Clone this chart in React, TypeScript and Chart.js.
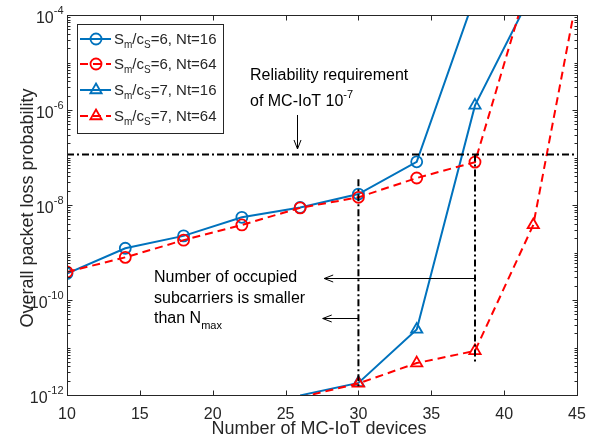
import React, { useEffect, useRef } from 'react';
import { Chart, registerables } from 'chart.js';

Chart.register(...registerables);

// ---------- data ----------
const xSeries6 = [10, 14, 18, 22, 26, 30, 34, 38, 42];
const s6Nt16 = [3.6e-10, 1.23e-9, 2.24e-9, 5.5e-9, 8.9e-9, 1.7e-8, 8.1e-8, 2.5e-4];
const s6Nt64 = [3.9e-10, 7.9e-10, 1.82e-9, 3.8e-9, 8.7e-9, 1.45e-8, 3.7e-8, 8.0e-8, 1.1e-3];
const xSeries7 = [26, 30, 34, 38, 42, 46];
const s7Nt16 = [9.8e-13, 1.8e-12, 2.4e-11, 1.25e-6, 3.3e-4];
const s7Nt64 = [8.9e-13, 1.75e-12, 4.7e-12, 8.5e-12, 3.8e-9, 1.0e-2];

const xTicks = [10, 15, 20, 25, 30, 35, 40, 45];
const yLabelExponents = [-12, -10, -8, -6, -4];

const legendRatio = [6, 6, 7, 7];
const legendNt = [16, 64, 16, 64];

const reliabilityLevel = 1.15e-7;
const reliabilityX = [10, 44.8];
const nmaxX = [30, 38];
const nmaxTop = [3.5e-8, 1.15e-7];
const nmaxBottom = [1.4e-12, 4.9e-12];

// ---------- styles ----------
const FONT = '"Liberation Sans", Arial, Helvetica, sans-serif';
const INK = '#262626';
const BLUE = '#0072BD';
const RED = '#FF0000';

const toPts = (xs: number[], ys: number[]) => ys.map((y, i) => ({ x: xs[i], y }));

const markerRadius = (r: number) => (c: any) => {
  const v = c.raw && c.raw.y;
  return v >= 1e-12 && v <= 1e-4 ? r : 0;
};

type Part = [string, 'n' | 'sub' | 'sup'];

function drawRich(ctx: CanvasRenderingContext2D, parts: Part[], x: number, y: number, size: number, subSize: number, subDrop: number, supRise: number) {
  let cx = x;
  ctx.textAlign = 'left';
  ctx.textBaseline = 'alphabetic';
  for (const [t, k] of parts) {
    const s = k === 'n' ? size : subSize;
    ctx.font = `${s}px ${FONT}`;
    const yy = k === 'sub' ? y + subDrop : k === 'sup' ? y - supRise : y;
    ctx.fillText(t, cx, yy);
    cx += ctx.measureText(t).width;
  }
  return cx;
}

function seg(ctx: CanvasRenderingContext2D, x1: number, y1: number, x2: number, y2: number) {
  ctx.beginPath();
  ctx.moveTo(x1, y1);
  ctx.lineTo(x2, y2);
  ctx.stroke();
}

const overlay = {
  id: 'overlay',
  afterDraw(chart: any) {
    const { ctx, chartArea: a, scales } = chart;
    const xs = scales.x;
    const ys = scales.y;
    ctx.save();
    ctx.setLineDash([]);
    ctx.strokeStyle = INK;
    ctx.fillStyle = INK;
    ctx.lineWidth = 1;

    const L = Math.round(a.left) + 0.5;
    const R = Math.round(a.right) + 0.5;
    const T = Math.round(a.top) + 0.5;
    const B = Math.round(a.bottom) + 0.5;
    ctx.strokeRect(L, T, R - L, B - T);

    // x ticks (inward, bottom and top)
    for (const v of xTicks) {
      const px = Math.round(xs.getPixelForValue(v)) + 0.5;
      seg(ctx, px, B, px, B - 5);
      seg(ctx, px, T, px, T + 5);
    }
    // y ticks (inward, left and right)
    for (let e = -12; e <= -4; e++) {
      for (let k = 1; k <= 9; k++) {
        if (e === -4 && k > 1) break;
        const py = Math.round(ys.getPixelForValue(k * Math.pow(10, e))) + 0.5;
        const len = k === 1 && e % 2 === 0 ? 5 : 3;
        seg(ctx, L, py, L + len, py);
        seg(ctx, R, py, R - len, py);
      }
    }

    // y tick labels 10^e
    for (const e of yLabelExponents) {
      const py = ys.getPixelForValue(Math.pow(10, e));
      ctx.font = `11px ${FONT}`;
      const expStr = String(e);
      const we = ctx.measureText(expStr).width;
      ctx.font = `16px ${FONT}`;
      const wb = ctx.measureText('10').width;
      const right = L - 4;
      ctx.textAlign = 'left';
      ctx.textBaseline = 'alphabetic';
      ctx.fillText('10', right - we - wb, py + 8);
      ctx.font = `11px ${FONT}`;
      ctx.fillText(expStr, right - we, py - 1);
    }

    // axis titles
    ctx.font = `18px ${FONT}`;
    ctx.textAlign = 'center';
    ctx.textBaseline = 'alphabetic';
    ctx.fillText('Number of MC-IoT devices', (a.left + a.right) / 2 - 3, 434);
    ctx.save();
    ctx.translate(33, (a.top + a.bottom) / 2 + 3);
    ctx.rotate(-Math.PI / 2);
    ctx.fillText('Overall packet loss probability', 0, 0);
    ctx.restore();

    // legend
    ctx.fillStyle = '#ffffff';
    ctx.fillRect(77, 24, 146, 109);
    ctx.strokeStyle = INK;
    ctx.strokeRect(77.5, 24.5, 146, 109);
    const rowY = [39, 64, 90, 116];
    for (let i = 0; i < 4; i++) {
      const y = rowY[i];
      const color = i % 2 === 0 ? BLUE : RED;
      ctx.strokeStyle = color;
      ctx.lineWidth = 2;
      ctx.setLineDash(i % 2 === 0 ? [] : [8, 5]);
      seg(ctx, 80, y, 111, y);
      ctx.setLineDash([]);
      ctx.lineWidth = 1.8;
      ctx.beginPath();
      if (legendRatio[i] === 6) {
        ctx.arc(96, y, 5.5, 0, Math.PI * 2);
      } else {
        const r = 6.5;
        ctx.moveTo(96, y - r);
        ctx.lineTo(96 + r * Math.sin(Math.PI / 3), y + r * 0.5);
        ctx.lineTo(96 - r * Math.sin(Math.PI / 3), y + r * 0.5);
        ctx.closePath();
      }
      ctx.stroke();
      ctx.fillStyle = INK;
      drawRich(ctx, [['S', 'n'], ['m', 'sub'], ['/c', 'n'], ['S', 'sub'], [`=${legendRatio[i]}, Nt=${legendNt[i]}`, 'n']], 114, y + 5, 15, 10, 4, 6);
    }

    // annotations
    ctx.fillStyle = '#000';
    ctx.strokeStyle = '#000';
    ctx.lineWidth = 1;
    ctx.font = `16px ${FONT}`;
    ctx.textAlign = 'left';
    ctx.textBaseline = 'alphabetic';
    ctx.fillText('Reliability requirement', 250, 80);
    drawRich(ctx, [['of MC-IoT 10', 'n'], ['-7', 'sup']], 250, 106, 16, 11, 4, 8);
    ctx.font = `16px ${FONT}`;
    ctx.fillText('Number of occupied', 154, 282);
    ctx.fillText('subcarriers is smaller', 154, 303);
    drawRich(ctx, [['than N', 'n'], ['max', 'sub']], 154, 323, 16, 11, 6, 0);

    // down arrow
    const ax = Math.round(xs.getPixelForValue(25.77)) + 0.5;
    const ay1 = ys.getPixelForValue(7.85e-7);
    const ay2 = ys.getPixelForValue(1.51e-7);
    seg(ctx, ax, ay1, ax, ay2);
    seg(ctx, ax - 3.5, ay2 - 9, ax, ay2);
    seg(ctx, ax + 3.5, ay2 - 9, ax, ay2);

    // left arrows
    const arrows: [number, number, number][] = [
      [38, 27.65, 2.86e-10],
      [30, 27.55, 4.24e-11],
    ];
    for (const [from, to, yv] of arrows) {
      const py = Math.round(ys.getPixelForValue(yv)) + 0.5;
      const x1 = xs.getPixelForValue(from);
      const x2 = xs.getPixelForValue(to);
      seg(ctx, x1, py, x2, py);
      seg(ctx, x2 + 9, py - 3.5, x2, py);
      seg(ctx, x2 + 9, py + 3.5, x2, py);
    }

    ctx.restore();
  },
};

export default function App() {
  const ref = useRef<HTMLCanvasElement | null>(null);

  useEffect(() => {
    if (!ref.current) return;
    const dashDot = [7, 3, 2, 3];
    const chart = new Chart(ref.current, {
      type: 'line',
      data: {
        datasets: [
          {
            label: 'reliability',
            data: reliabilityX.map((x) => ({ x, y: reliabilityLevel })),
            borderColor: '#000',
            borderWidth: 2,
            borderDash: dashDot,
            pointRadius: 0,
            order: 0,
          },
          ...nmaxX.map((x, i) => ({
            label: `nmax${x}`,
            data: [
              { x, y: nmaxTop[i] },
              { x, y: nmaxBottom[i] },
            ],
            borderColor: '#000',
            borderWidth: 2,
            borderDash: dashDot,
            pointRadius: 0,
            order: 0,
          })),
          {
            label: 'Sm/cS=6, Nt=64',
            data: toPts(xSeries6, s6Nt64),
            borderColor: RED,
            borderWidth: 2,
            borderDash: [8, 5],
            pointStyle: 'circle',
            pointRadius: markerRadius(5.5),
            pointBorderWidth: 1.8,
            pointBorderColor: RED,
            pointBackgroundColor: 'rgba(0,0,0,0)',
            order: 1,
          },
          {
            label: 'Sm/cS=7, Nt=64',
            data: toPts(xSeries7, s7Nt64),
            borderColor: RED,
            borderWidth: 2,
            borderDash: [8, 5],
            pointStyle: 'triangle',
            pointRadius: markerRadius(6.5),
            pointBorderWidth: 1.8,
            pointBorderColor: RED,
            pointBackgroundColor: 'rgba(0,0,0,0)',
            order: 1,
          },
          {
            label: 'Sm/cS=6, Nt=16',
            data: toPts(xSeries6, s6Nt16),
            borderColor: BLUE,
            borderWidth: 2,
            pointStyle: 'circle',
            pointRadius: markerRadius(5.5),
            pointBorderWidth: 1.8,
            pointBorderColor: BLUE,
            pointBackgroundColor: 'rgba(0,0,0,0)',
            order: 2,
          },
          {
            label: 'Sm/cS=7, Nt=16',
            data: toPts(xSeries7, s7Nt16),
            borderColor: BLUE,
            borderWidth: 2,
            pointStyle: 'triangle',
            pointRadius: markerRadius(6.5),
            pointBorderWidth: 1.8,
            pointBorderColor: BLUE,
            pointBackgroundColor: 'rgba(0,0,0,0)',
            order: 2,
          },
        ] as any,
      },
      options: {
        animation: false,
        responsive: false,
        devicePixelRatio: 1,
        layout: { padding: { left: 0, top: 15, right: 12, bottom: 0 } },
        elements: { line: { tension: 0 } },
        plugins: { legend: { display: false }, tooltip: { enabled: false } },
        scales: {
          x: {
            type: 'linear',
            min: 10,
            max: 45,
            grid: { display: false },
            border: { display: false },
            ticks: {
              font: { family: FONT, size: 16 },
              color: INK,
              padding: 2,
              maxRotation: 0,
              autoSkip: false,
            },
            afterBuildTicks: (s: any) => {
              s.ticks = xTicks.map((v) => ({ value: v }));
            },
            afterFit: (s: any) => {
              s.height = 50;
              s.paddingLeft = 0;
              s.paddingRight = 0;
            },
          },
          y: {
            type: 'logarithmic',
            min: 1e-12,
            max: 1e-4,
            grid: { display: false },
            border: { display: false },
            ticks: { display: false },
            afterFit: (s: any) => {
              s.width = 67;
              s.paddingTop = 0;
              s.paddingBottom = 0;
            },
          },
        },
      } as any,
      plugins: [overlay],
    });
    return () => chart.destroy();
  }, []);

  return (
    <div style={{ position: 'absolute', left: 0, top: 0, width: 589, height: 445, background: '#fff' }}>
      <canvas ref={ref} width={589} height={445} style={{ display: 'block' }} />
    </div>
  );
}
